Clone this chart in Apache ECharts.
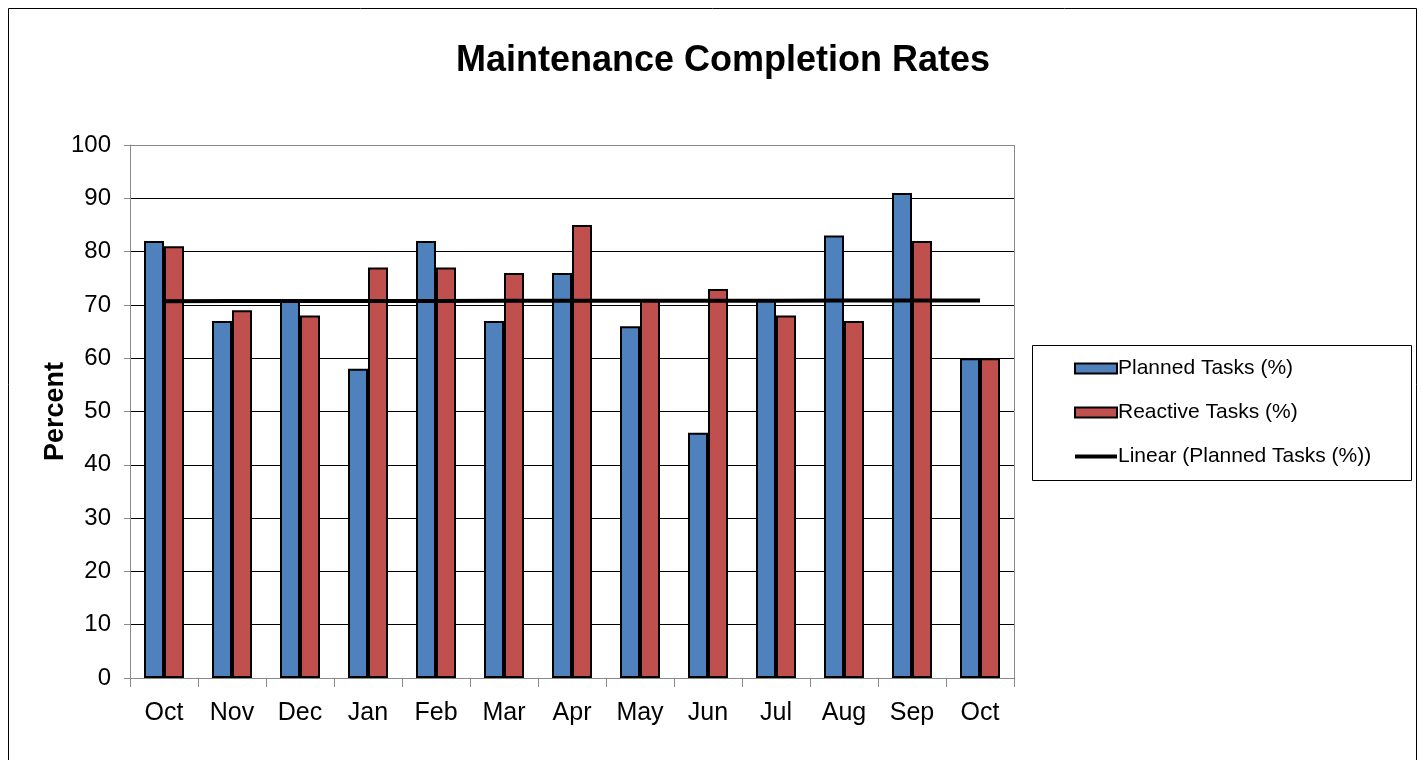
<!DOCTYPE html>
<html>
<head>
<meta charset="utf-8">
<script src="https://cdn.jsdelivr.net/npm/echarts@6/dist/echarts.min.js"></script>
<style>
  html, body { margin: 0; padding: 0; background: #fff; }
  #chart { width: 1423px; height: 760px; }
</style>
</head>
<body>
<div id="chart"></div>
<script>
// Monthly completion rates, October through the following October
const months = ['Oct', 'Nov', 'Dec', 'Jan', 'Feb', 'Mar', 'Apr', 'May', 'Jun', 'Jul', 'Aug', 'Sep', 'Oct'];
const plannedTasks = [82, 67, 71, 58, 82, 67, 76, 66, 46, 71, 83, 91, 60];
const reactiveTasks = [81, 69, 68, 77, 77, 76, 85, 71, 73, 68, 67, 82, 60];
const yTicks = [0, 10, 20, 30, 40, 50, 60, 70, 80, 90, 100];

// Least-squares linear trend through the planned series
function linearTrend(values) {
  const n = values.length;
  let sx = 0, sy = 0, sxy = 0, sxx = 0;
  values.forEach((y, i) => { const x = i + 1; sx += x; sy += y; sxy += x * y; sxx += x * x; });
  const slope = (n * sxy - sx * sy) / (n * sxx - sx * sx);
  const intercept = (sy - slope * sx) / n;
  return values.map((_, i) => +(intercept + slope * (i + 1)).toFixed(3));
}
const plannedTrend = linearTrend(plannedTasks);

const FONT = 'Liberation Sans, Arial, sans-serif';
// gridlines are black; the top edge of the plot is a grey frame line
const gridColors = yTicks.map((t, i) => (i === yTicks.length - 1 ? '#8a8a8a' : '#000000'));

const chart = echarts.init(document.getElementById('chart'), null, { renderer: 'canvas' });
chart.setOption({
  animation: false,
  backgroundColor: '#ffffff',
  title: {
    text: 'Maintenance Completion Rates',
    left: 718,
    textAlign: 'center',
    top: 38,
    textStyle: { fontFamily: FONT, fontSize: 36, fontWeight: 'bold', color: '#000' }
  },
  legend: {
    orient: 'vertical',
    left: 1069,
    top: 353,
    itemWidth: 42,
    itemHeight: 10,
    itemGap: 23,
    textStyle: { fontFamily: FONT, fontSize: 21, color: '#000', padding: [0, 0, 0, -4] },
    data: [
      { name: 'Planned Tasks (%)', icon: 'rect' },
      { name: 'Reactive Tasks (%)', icon: 'rect' },
      { name: 'Linear (Planned Tasks (%))', icon: 'path://M0 0H42V4H0Z', itemStyle: { color: '#000', borderWidth: 0 } }
    ]
  },
  graphic: [
    { type: 'rect', shape: { x: 8.5, y: 8.5, width: 1408, height: 780 }, style: { fill: null, stroke: '#000', lineWidth: 1 }, silent: true },
    { type: 'rect', shape: { x: 1032.5, y: 345.5, width: 379, height: 135 }, style: { fill: null, stroke: '#000', lineWidth: 1 }, silent: true },
    { type: 'line', shape: { x1: 1014.5, y1: 145, x2: 1014.5, y2: 678 }, style: { stroke: '#8a8a8a', lineWidth: 1 }, silent: true }
  ],
  grid: { left: 130, top: 145, right: 409, bottom: 82, containLabel: false },
  xAxis: {
    type: 'category',
    data: months,
    boundaryGap: true,
    axisLine: { lineStyle: { color: '#8a8a8a', width: 1 } },
    axisTick: { show: true, length: 9, alignWithLabel: false, lineStyle: { color: '#8a8a8a' } },
    axisLabel: { fontFamily: FONT, fontSize: 25, color: '#000', margin: 23 },
    splitLine: { show: false }
  },
  yAxis: {
    type: 'value',
    min: 0,
    max: 100,
    interval: 10,
    name: 'Percent',
    nameLocation: 'middle',
    nameGap: 61,
    nameMoveOverlap: false,
    nameTextStyle: { fontFamily: FONT, fontSize: 27, fontWeight: 'bold', color: '#000' },
    axisLine: { show: true, lineStyle: { color: '#8a8a8a', width: 1 } },
    axisTick: { show: true, length: 6, lineStyle: { color: '#8a8a8a' } },
    axisLabel: { fontFamily: FONT, fontSize: 24, color: '#000', margin: 19 },
    splitLine: { show: true, lineStyle: { color: gridColors, width: 1 } }
  },
  series: [
    {
      name: 'Planned Tasks (%)',
      type: 'bar',
      data: plannedTasks,
      barWidth: 20,
      barGap: '0%',
      itemStyle: { color: '#4F81BD', borderColor: '#000', borderWidth: 2 },
      z: 2
    },
    {
      name: 'Reactive Tasks (%)',
      type: 'bar',
      data: reactiveTasks,
      barWidth: 20,
      barGap: '0%',
      itemStyle: { color: '#C0504D', borderColor: '#000', borderWidth: 2 },
      z: 2
    },
    {
      name: 'Linear (Planned Tasks (%))',
      type: 'line',
      data: plannedTrend,
      symbol: 'none',
      lineStyle: { color: '#000', width: 4 },
      itemStyle: { color: '#000' },
      z: 5
    }
  ]
});
</script>
</body>
</html>
